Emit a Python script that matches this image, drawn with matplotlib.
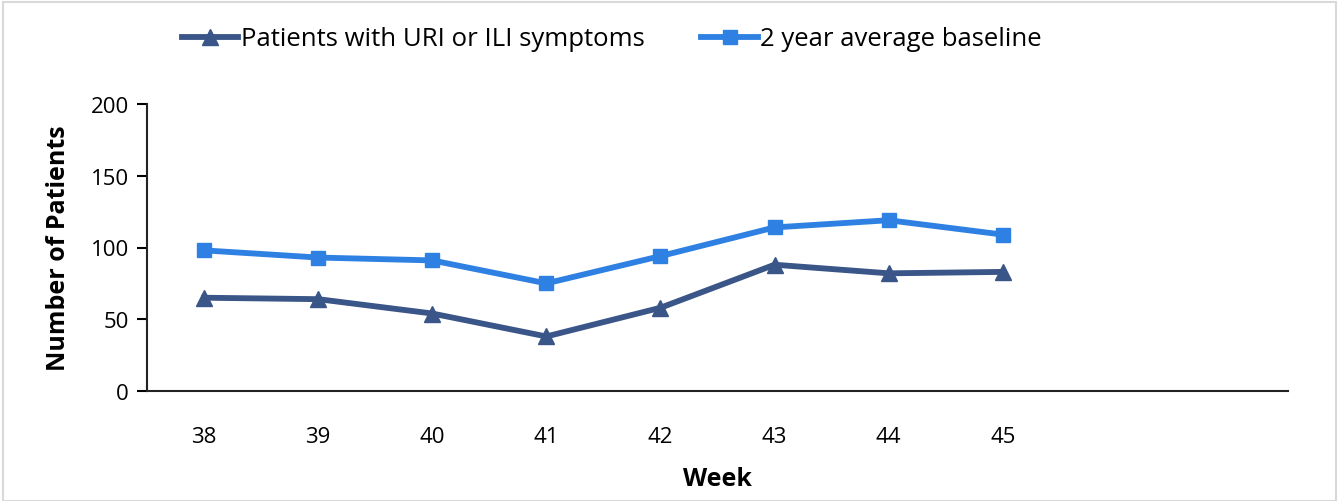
import matplotlib
matplotlib.use("Agg")
import matplotlib.pyplot as plt
from matplotlib.patches import Rectangle

weeks = ["38", "39", "40", "41", "42", "43", "44", "45", "", ""]
uri_ili = [65, 64, 54, 38, 58, 88, 82, 83]
baseline = [98, 93, 91, 75, 94, 114, 119, 109]

plt.rcParams['font.family'] = ['Open Sans', 'DejaVu Sans']

fig = plt.figure(figsize=(13.43, 5.02), dpi=100)
ax = fig.add_axes([147/1343, 1-392/502, (1288-147)/1343, (392-105)/502])

x_all = list(range(len(weeks)))
dark = "#3A5588"
blue = "#2E80E2"
ax.plot(x_all[:len(uri_ili)], uri_ili, color=dark, lw=4.2, marker='^', ms=11,
        label="Patients with URI or ILI symptoms", solid_joinstyle='round')
ax.plot(x_all[:len(baseline)], baseline, color=blue, lw=4.2, marker='s', ms=10.5,
        label="2 year average baseline", solid_joinstyle='round')

ax.set_xlim(-0.5, len(weeks) - 0.5)
ax.set_ylim(0, 200)
ax.set_yticks([0, 50, 100, 150, 200])
ax.set_xticks(x_all)
ax.set_xticklabels(weeks)
ax.tick_params(axis='x', length=0, pad=25, labelsize=16)
ax.tick_params(axis='y', length=7, width=1.5, direction='out', pad=6, labelsize=16)
for s in ['top', 'right']:
    ax.spines[s].set_visible(False)
for s in ['left', 'bottom']:
    ax.spines[s].set_linewidth(1.5)
    ax.spines[s].set_color('#222222')

ax.set_xlabel("Week", fontsize=18, fontweight='bold', labelpad=14)
ax.set_ylabel("Number of Patients", fontsize=18, fontweight='bold', labelpad=14)

leg = fig.legend(loc='center', bbox_to_anchor=(612/1343, 1-40/502), ncol=2,
                 frameon=False, fontsize=18.5, handlelength=2.2, columnspacing=2.2,
                 handletextpad=0.1)

fig.patches.append(Rectangle((3/1343, 0.0), 1333/1343, 1-3/502, transform=fig.transFigure,
                             fill=False, edgecolor='#D9D9D9', lw=1.5))

fig.savefig("out.png", dpi=100)
